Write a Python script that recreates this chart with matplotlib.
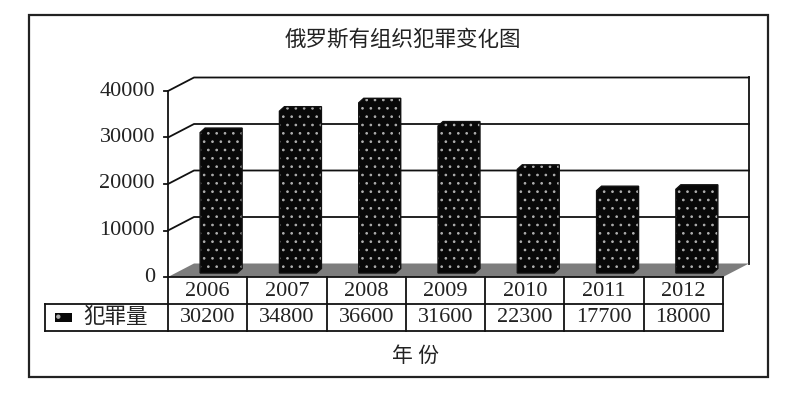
import numpy as np
import matplotlib.pyplot as plt
from matplotlib.patches import Polygon, Rectangle

years = ['2006', '2007', '2008', '2009', '2010', '2011', '2012']
crimes = [30200, 34800, 36600, 31600, 22300, 17700, 18000]
yticks = [0, 10000, 20000, 30000, 40000]
title = '俄罗斯有组织犯罪变化图'
series_name = '犯罪量'
xlabel = '年 份'

plt.rcParams['font.family'] = ['Liberation Serif', 'Noto Sans CJK SC', 'DejaVu Sans']
plt.rcParams['hatch.linewidth'] = 0.7

W, H = 800, 400
fig = plt.figure(figsize=(8, 4), dpi=100)
fig.patch.set_facecolor('white')

def box(l, t, r, b):
    return [l / W, 1 - b / H, (r - l) / W, (b - t) / H]

# plot area = front plane of the 3d box (pixels measured from reference)
L, T, R, B = 168, 91, 723, 277
ax = fig.add_axes(box(L, T, R, B))
n = len(years)
ymax = yticks[-1]
ax.set_xlim(-0.5, n - 0.5)
ax.set_ylim(0, ymax)
ax.axis('off')

# pixel -> data scale
sx = n / (R - L)
sy = ymax / (B - T)
x0, x1 = -0.5, n - 0.5

# depth of the wall / floor
DX, DY = 26 * sx, 13.5 * sy
kw = dict(color='#111111', lw=1.3, clip_on=False)

# floor
floor = Polygon([(x0, 0), (x1, 0), (x1 + DX, DY), (x0 + DX, DY)],
                closed=True, fc='#7d7d7d', ec='none', zorder=1, clip_on=False)
ax.add_patch(floor)

# back wall gridlines + diagonals to the front axis
for t in yticks[1:]:
    ax.plot([x0, x0 + DX, x1 + DX], [t, t + DY, t + DY], zorder=0.5, **kw)
ax.plot([x1 + DX, x1 + DX], [DY, ymax + DY], zorder=0.5, **kw)

# front value axis + ticks + labels
ax.plot([x0, x0], [0, ymax], zorder=3, **kw)
for t in yticks:
    ax.plot([x0 - 4 * sx, x0], [t, t], zorder=3, **kw)
    ax.text(x0 - 13 * sx, t, str(t), ha='right', va='center',
            fontsize=16, color='#222222')

# bars (pseudo 3d columns)
bx, by = 11 * sx, 4 * sy
bw = 37 * sx
tx, ty = 5 * sx, 4.5 * sy
for i, v in enumerate(crimes):
    l = i - bw / 2 + bx
    r = l + bw
    pts = [(l, by), (l, by + v), (l + tx, by + v + ty), (r + tx, by + v + ty),
           (r + tx, by + ty), (r, by)]
    ax.add_patch(Polygon(pts, closed=True, fc='#080808', ec='#b0b0b0', lw=0,
                         hatch='..', zorder=2, clip_on=False))
    ax.add_patch(Polygon(pts, closed=True, fc='none', ec='#111111', lw=1,
                         zorder=2.1, clip_on=False))

# data table under the chart
r1 = -27 * sy
r2 = -54 * sy
leg_l = x0 - (L - 45) * sx
ax.plot([x0, x1], [0, 0], zorder=3, **kw)
ax.plot([leg_l, x1], [r1, r1], zorder=3, **kw)
ax.plot([leg_l, x1], [r2, r2], zorder=3, **kw)
ax.plot([leg_l, leg_l], [r1, r2], zorder=3, **kw)
for k in range(n + 1):
    ax.plot([x0 + k, x0 + k], [0, r2], zorder=3, **kw)
for i in range(n):
    ax.text(i, r1 / 2 - 1 * sy, years[i], ha='center', va='center',
            fontsize=16, color='#222222')
    ax.text(i, (r1 + r2) / 2, str(crimes[i]), ha='center', va='center',
            fontsize=16, color='#222222')

# legend key + name
kx = x0 - (L - 55) * sx
ky = (r1 + r2) / 2 - 4.5 * sy
ax.add_patch(Rectangle((kx, ky), 17 * sx, 9 * sy, fc='#080808', ec='#b0b0b0',
                       lw=0, hatch='.', clip_on=False))
ax.text(x0 - (L - 83) * sx, (r1 + r2) / 2, series_name, ha='left',
        va='center', fontsize=15.5, color='#222222')

# axis title
fig.text(415 / W, 1 - 357 / H, xlabel, ha='center', va='center',
         fontsize=15, color='#222222')

# chart title
fig.text(403 / W, 1 - 40 / H, title, ha='center', va='center',
         fontsize=15.5, color='#222222')

# outer chart border
fig.add_artist(Rectangle((29 / W, 1 - 377 / H), (768 - 29) / W, (377 - 15) / H,
                         transform=fig.transFigure, fill=False, ec='#222222',
                         lw=1.6))

fig.savefig('out.png', dpi=100)
